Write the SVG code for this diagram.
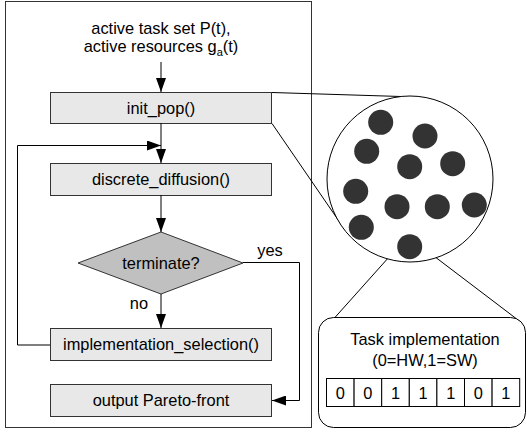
<svg xmlns="http://www.w3.org/2000/svg" width="527" height="434" viewBox="0 0 527 434">
<defs>
<marker id="ah" markerUnits="userSpaceOnUse" markerWidth="14" markerHeight="10" refX="14" refY="5" orient="auto">
<path d="M0,0 L14,5 L0,10 z" fill="#000"/>
</marker>
<style>
text{font-family:"Liberation Sans",Arial,sans-serif;font-size:16.4px;fill:#000;text-anchor:middle}
.box{fill:#e8e8e8;stroke:#333;stroke-width:1}
.ln{fill:none;stroke:#000;stroke-width:1}
.dot{fill:#333}
.cell{fill:#fff;stroke:#000;stroke-width:1}
</style>
</defs>
<rect x="5.5" y="1.5" width="306" height="426" fill="#fff" stroke="#333" stroke-width="1"/>
<g id="input"><text x="161" y="34">active task set P(t),</text><text x="161" y="52">active resources g<tspan font-size="11" dy="4">a</tspan><tspan dy="-4">(t)</tspan></text></g>
<g id="init_pop"><rect class="box" x="50.5" y="92.5" width="221" height="31"/><text x="161" y="113.5">init_pop()</text></g>
<g id="discrete_diffusion"><rect class="box" x="50.5" y="163.5" width="221" height="32"/><text x="161" y="185">discrete_diffusion()</text></g>
<g id="terminate"><polygon points="78,263 161,232 243,263 161,294" fill="#c0c0c0" stroke="#333" stroke-width="1"/><text x="161" y="269">terminate?</text></g>
<g id="implementation_selection"><rect class="box" x="50.5" y="328.5" width="221" height="32"/><text x="161" y="350">implementation_selection()</text></g>
<g id="output"><rect class="box" x="50.5" y="384.5" width="221" height="32"/><text x="161" y="406">output Pareto-front</text></g>
<g id="connectors">
<line class="ln" x1="161" y1="62" x2="161" y2="92" marker-end="url(#ah)"/>
<line class="ln" x1="161" y1="123" x2="161" y2="163" marker-end="url(#ah)"/>
<polyline class="ln" points="50,345 17.5,345 17.5,145.5 161,145.5" marker-end="url(#ah)"/>
<line class="ln" x1="161" y1="195" x2="161" y2="232" marker-end="url(#ah)"/>
<line class="ln" x1="161" y1="294" x2="161" y2="328" marker-end="url(#ah)"/>
<polyline class="ln" points="243,262.5 299.5,262.5 299.5,400.5 272,400.5" marker-end="url(#ah)"/>
<text x="148" y="309" style="text-anchor:end">no</text>
<text x="270" y="256">yes</text>
<line class="ln" x1="272" y1="92.5" x2="401" y2="96.5"/>
<line class="ln" x1="272" y1="123.5" x2="343" y2="227"/>
<line class="ln" x1="398" y1="247" x2="330" y2="323"/>
<line class="ln" x1="422" y1="247" x2="522" y2="323"/>
</g>
<g id="population">
<circle cx="410" cy="179" r="83" fill="#fff" stroke="#000" stroke-width="1"/>
<circle class="dot" cx="380.7" cy="122.3" r="12.5"/>
<circle class="dot" cx="425" cy="136" r="12.5"/>
<circle class="dot" cx="366.7" cy="151.3" r="12.5"/>
<circle class="dot" cx="409.7" cy="166.7" r="12.5"/>
<circle class="dot" cx="452.7" cy="163.7" r="12.5"/>
<circle class="dot" cx="355.7" cy="191.3" r="12.5"/>
<circle class="dot" cx="397" cy="206.7" r="12.5"/>
<circle class="dot" cx="437.3" cy="206.7" r="12.5"/>
<circle class="dot" cx="474.3" cy="205" r="12.5"/>
<circle class="dot" cx="361.3" cy="227.3" r="12.5"/>
<circle class="dot" cx="409.7" cy="246.7" r="12.5"/>
</g>
<g id="task_implementation">
<rect x="318.5" y="317.5" width="207" height="110" rx="15" fill="#fff" stroke="#000" stroke-width="1"/>
<text x="425" y="345">Task implementation</text>
<text x="425" y="366">(0=HW,1=SW)</text>
<rect class="cell" x="326.5" y="378.5" width="27.6" height="28"/>
<rect class="cell" x="354.1" y="378.5" width="27.6" height="28"/>
<rect class="cell" x="381.7" y="378.5" width="27.6" height="28"/>
<rect class="cell" x="409.3" y="378.5" width="27.6" height="28"/>
<rect class="cell" x="436.9" y="378.5" width="27.6" height="28"/>
<rect class="cell" x="464.5" y="378.5" width="27.6" height="28"/>
<rect class="cell" x="492.1" y="378.5" width="27.6" height="28"/>
<text x="340.3" y="398.5">0</text>
<text x="367.9" y="398.5">0</text>
<text x="395.5" y="398.5">1</text>
<text x="423.1" y="398.5">1</text>
<text x="450.7" y="398.5">1</text>
<text x="478.3" y="398.5">0</text>
<text x="505.9" y="398.5">1</text>
</g>
</svg>
